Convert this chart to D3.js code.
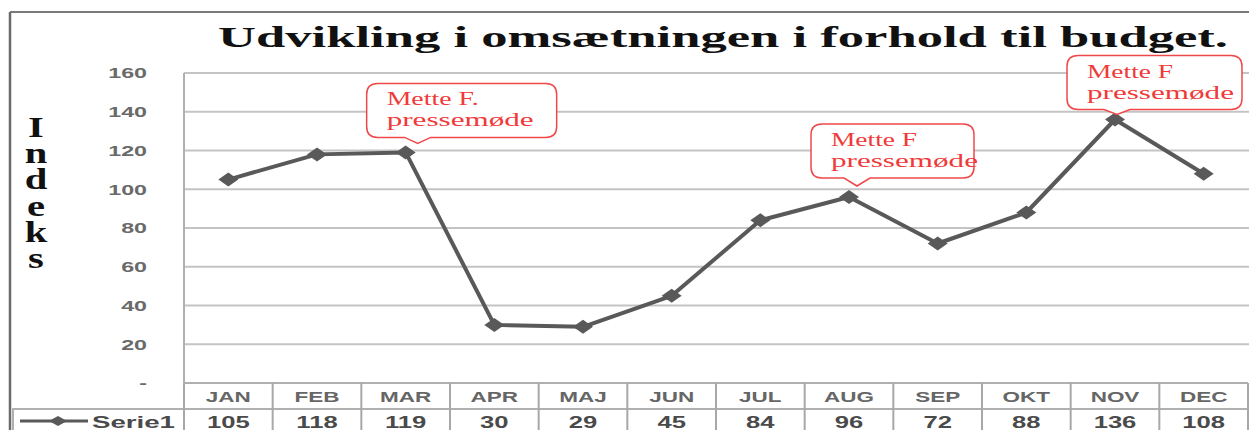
<!DOCTYPE html>
<html>
<head>
<meta charset="UTF-8">
<script src="https://cdn.jsdelivr.net/npm/d3@7"></script>
<style>
  body { margin: 0; background: #fff; }
  svg { display: block; }
</style>
</head>
<body>
<svg id="chart" width="1249" height="430"></svg>
<script>
// data
var months = ["JAN", "FEB", "MAR", "APR", "MAJ", "JUN", "JUL", "AUG", "SEP", "OKT", "NOV", "DEC"];
var serie1 = [105, 118, 119, 30, 29, 45, 84, 96, 72, 88, 136, 108];
var yTicks = [0, 20, 40, 60, 80, 100, 120, 140, 160];
var seriesName = "Serie1";
var titleText = "Udvikling i omsætningen i forhold til budget.";
var yTitle = "Indeks";
var notes = [
  { month: "MAR", lines: ["Mette F.", "pressemøde"] },
  { month: "AUG", lines: ["Mette F", "pressemøde"] },
  { month: "NOV", lines: ["Mette F", "pressemøde"] }
];

var svg = d3.select("#chart");
var W = 1249, H = 430;
// plot box (window.top is reserved, so no plain "top")
var pLeft = 184, pRight = 1248, pTop = 73, pBottom = 383;
var row1 = 409;

var x = d3.scaleBand().domain(months).range([pLeft, pRight]);
var y = d3.scaleLinear().domain([0, 160]).range([pBottom, pTop]);
var cx = function(m) { return x(m) + x.bandwidth() / 2; };

var sans = "'Liberation Sans', Arial, sans-serif";
var serif = "'Liberation Serif', 'Times New Roman', serif";

// outer frame
svg.append("line").attr("x1", 10).attr("x2", W).attr("y1", 12).attr("y2", 12)
  .attr("stroke", "#7a7a7a").attr("stroke-width", 2);
svg.append("line").attr("x1", 10).attr("x2", 10).attr("y1", 12).attr("y2", H)
  .attr("stroke", "#6a6a6a").attr("stroke-width", 2.5);

// title
svg.append("text")
  .attr("x", 218).attr("y", 47)
  .attr("textLength", 1010).attr("lengthAdjust", "spacingAndGlyphs")
  .style("font-family", serif).style("font-weight", "bold").style("font-size", "29px")
  .attr("fill", "#111")
  .text(titleText);

// y title, one letter per line
svg.append("g").selectAll("text")
  .data(yTitle.split(""))
  .enter().append("text")
  .attr("transform", function(d, i) { return "translate(36," + (137 + i * 26.2) + ") scale(1.4,1)"; })
  .attr("text-anchor", "middle")
  .style("font-family", serif).style("font-weight", "bold").style("font-size", "29px")
  .attr("fill", "#111")
  .text(function(d) { return d; });

// gridlines
svg.append("g").selectAll("line")
  .data(yTicks.filter(function(d) { return d > 0; }))
  .enter().append("line")
  .attr("x1", pLeft).attr("x2", W)
  .attr("y1", function(d) { return y(d); }).attr("y2", function(d) { return y(d); })
  .attr("stroke", "#c4c4c4").attr("stroke-width", 2);

// y axis line
svg.append("line").attr("x1", pLeft).attr("x2", pLeft).attr("y1", pTop).attr("y2", pBottom)
  .attr("stroke", "#b0b0b0").attr("stroke-width", 2);

// y tick labels
var yAxis = svg.append("g")
  .attr("transform", "translate(147,0)")
  .call(d3.axisLeft(y).tickValues(yTicks).tickSize(0).tickPadding(0)
    .tickFormat(function(d) { return d === 0 ? "-" : d; }));
yAxis.select(".domain").remove();
yAxis.selectAll("text")
  .attr("transform", "scale(1.55,1)")
  .style("font-family", sans).style("font-weight", "bold").style("font-size", "15px")
  .attr("fill", "#6a6a6a");

// data table
var tbl = svg.append("g");
tbl.append("line").attr("x1", pLeft).attr("x2", pRight).attr("y1", pBottom).attr("y2", pBottom)
  .attr("stroke", "#b0b0b0").attr("stroke-width", 2);
tbl.append("line").attr("x1", 12).attr("x2", pRight).attr("y1", row1).attr("y2", row1)
  .attr("stroke", "#b0b0b0").attr("stroke-width", 2);
tbl.append("line").attr("x1", 13).attr("x2", 13).attr("y1", row1).attr("y2", H)
  .attr("stroke", "#b0b0b0").attr("stroke-width", 2);
tbl.selectAll(".vline")
  .data(months.map(function(m) { return x(m); }).concat([pRight]))
  .enter().append("line")
  .attr("class", "vline")
  .attr("x1", function(d) { return d; }).attr("x2", function(d) { return d; })
  .attr("y1", pBottom).attr("y2", H)
  .attr("stroke", "#a8a8a8").attr("stroke-width", 2);

var xAxis = svg.append("g")
  .attr("transform", "translate(0,402)")
  .call(d3.axisBottom(x).tickSize(0).tickPadding(0));
xAxis.select(".domain").remove();
xAxis.selectAll("text")
  .attr("dy", 0)
  .attr("transform", "scale(1.5,1)")
  .style("font-family", sans).style("font-weight", "bold").style("font-size", "15px")
  .attr("fill", "#666");

tbl.selectAll(".val")
  .data(serie1)
  .enter().append("text")
  .attr("class", "val")
  .attr("transform", function(d, i) { return "translate(" + cx(months[i]) + ",428) scale(1.6,1)"; })
  .attr("text-anchor", "middle")
  .style("font-family", sans).style("font-weight", "bold").style("font-size", "16px")
  .attr("fill", "#4a4a4a")
  .text(function(d) { return d; });

// legend key in the table
tbl.append("line").attr("x1", 20).attr("x2", 88).attr("y1", 421).attr("y2", 421)
  .attr("stroke", "#595959").attr("stroke-width", 3);
tbl.append("path").attr("d", "M49,421L58,416L67,421L58,426Z").attr("fill", "#595959");
tbl.append("text")
  .attr("x", 92).attr("y", 428)
  .attr("textLength", 83).attr("lengthAdjust", "spacingAndGlyphs")
  .style("font-family", sans).style("font-weight", "bold").style("font-size", "16px")
  .attr("fill", "#4a4a4a")
  .text(seriesName);

// series line
var line = d3.line()
  .x(function(d, i) { return cx(months[i]); })
  .y(function(d) { return y(d); });
svg.append("path")
  .datum(serie1)
  .attr("d", line)
  .attr("fill", "none")
  .attr("stroke", "#595959").attr("stroke-width", 4)
  .attr("stroke-linejoin", "round");
svg.append("g").selectAll("path")
  .data(serie1)
  .enter().append("path")
  .attr("transform", function(d, i) { return "translate(" + cx(months[i]) + "," + y(d) + ")"; })
  .attr("d", "M-10,0L0,-7L10,0L0,7Z")
  .attr("fill", "#595959");

// callouts
var noteGeo = { MAR: { dx: 12, dy: 9, l: 51, w: 190, gap: 6 },
                AUG: { dx: 8, dy: 11, l: 46, w: 163, gap: 8 },
                NOV: { dx: 2, dy: 5, l: 50, w: 175, gap: 5 } };
notes.forEach(function(n) {
  var v = serie1[months.indexOf(n.month)];
  var g = noteGeo[n.month];
  var tx = cx(n.month) + g.dx, ty = y(v) - g.dy;
  var b = ty - g.gap, t = b - 54, l = tx - g.l, r = l + g.w, c = 11;
  var p = d3.path();
  p.moveTo(l + c, t); p.lineTo(r - c, t); p.quadraticCurveTo(r, t, r, t + c);
  p.lineTo(r, b - c); p.quadraticCurveTo(r, b, r - c, b);
  p.lineTo(tx + 13, b); p.lineTo(tx, ty); p.lineTo(tx - 13, b);
  p.lineTo(l + c, b); p.quadraticCurveTo(l, b, l, b - c);
  p.lineTo(l, t + c); p.quadraticCurveTo(l, t, l + c, t); p.closePath();
  svg.append("path").attr("d", p.toString())
    .attr("fill", "#fff").attr("stroke", "#f04848").attr("stroke-width", 1.5);
  var tl = l + 20;
  svg.append("text").attr("x", tl).attr("y", t + 22)
    .attr("textLength", n.lines[0].length > 7 ? 92 : 86).attr("lengthAdjust", "spacingAndGlyphs")
    .style("font-family", serif).style("font-size", "18px").attr("fill", "#f03a3a")
    .text(n.lines[0]);
  svg.append("text").attr("x", tl).attr("y", t + 43)
    .attr("textLength", 147).attr("lengthAdjust", "spacingAndGlyphs")
    .style("font-family", serif).style("font-size", "18px").attr("fill", "#f03a3a")
    .text(n.lines[1]);
});
</script>
</body>
</html>
